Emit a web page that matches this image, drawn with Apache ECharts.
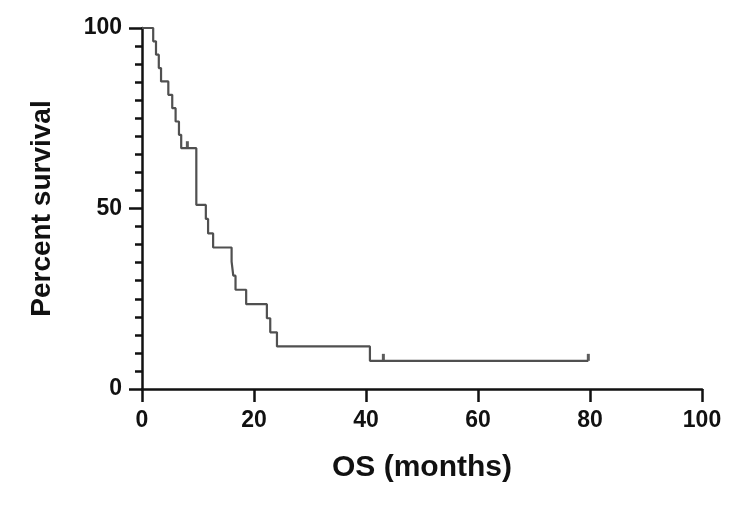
<!DOCTYPE html>
<html>
<head>
<meta charset="utf-8">
<script src="https://cdn.jsdelivr.net/npm/echarts@6/dist/echarts.min.js"></script>
<style>
  html, body { margin: 0; padding: 0; background: #fff; }
  #chart { width: 752px; height: 506px; }
</style>
</head>
<body>
<div id="chart"></div>
<script>
// Kaplan-Meier step points: time (months) and percent surviving after that time
const kmTimes = [0, 2.0, 2.5, 3.0, 3.4, 4.7, 5.4, 6.0, 6.6, 7.0, 9.7, 11.4, 11.8, 12.7, 16.0, 16.3, 16.7, 18.6, 22.3, 22.9, 24.1, 40.7, 79.7];
const kmSurvival = [100, 96.3, 92.6, 88.9, 85.2, 81.5, 77.8, 74.1, 70.4, 66.7, 51.0, 47.1, 43.1, 39.2, 35.3, 31.4, 27.5, 23.5, 19.6, 15.7, 11.8, 7.8, 7.8];

// censored observations
const censorTimes = [8.1, 43.1, 79.7];
const censorSurvival = [66.7, 7.8, 7.8];

const xTicks = [0, 20, 40, 60, 80, 100];
const yTicks = [0, 50, 100];

const font = "'Liberation Sans', Arial, sans-serif";
const axisColor = '#111';

const chart = echarts.init(document.getElementById('chart'));

const axisCommon = {
    axisLine: { show: true, onZero: false, lineStyle: { color: axisColor, width: 2.5 } },
    axisTick: { show: true, length: 13, lineStyle: { color: axisColor, width: 2.5 } },
    splitLine: { show: false },
    axisLabel: { color: '#111', fontSize: 23, fontWeight: 'bold', fontFamily: font, margin: 20 },
    nameTextStyle: { color: '#111', fontWeight: 'bold', fontFamily: font }
};

chart.setOption({
    animation: false,
    backgroundColor: '#fff',
    grid: { left: 142, right: 50, top: 28, bottom: 117 },
    xAxis: Object.assign({}, axisCommon, {
        type: 'value',
        min: xTicks[0],
        max: xTicks[xTicks.length - 1],
        interval: xTicks[1] - xTicks[0],
        name: 'OS (months)',
        nameLocation: 'middle',
        nameGap: 64,
        nameTextStyle: Object.assign({}, axisCommon.nameTextStyle, { fontSize: 30 })
    }),
    yAxis: Object.assign({}, axisCommon, {
        type: 'value',
        min: yTicks[0],
        max: yTicks[yTicks.length - 1],
        interval: yTicks[1] - yTicks[0],
        minorTick: { show: true, splitNumber: 10, length: 7, lineStyle: { color: axisColor, width: 2.5 } },
        name: 'Percent survival',
        nameLocation: 'middle',
        nameGap: 86,
        nameTextStyle: Object.assign({}, axisCommon.nameTextStyle, { fontSize: 28 })
    }),
    series: [
        {
            type: 'line',
            step: 'end',
            showSymbol: false,
            lineStyle: { color: '#505050', width: 2.2 },
            data: kmTimes.map((t, i) => [t, kmSurvival[i]])
        },
        {
            type: 'scatter',
            symbol: 'rect',
            symbolSize: [3, 7],
            symbolOffset: [0, -3.5],
            itemStyle: { color: '#333' },
            data: censorTimes.map((t, i) => [t, censorSurvival[i]])
        }
    ]
});
</script>
</body>
</html>
